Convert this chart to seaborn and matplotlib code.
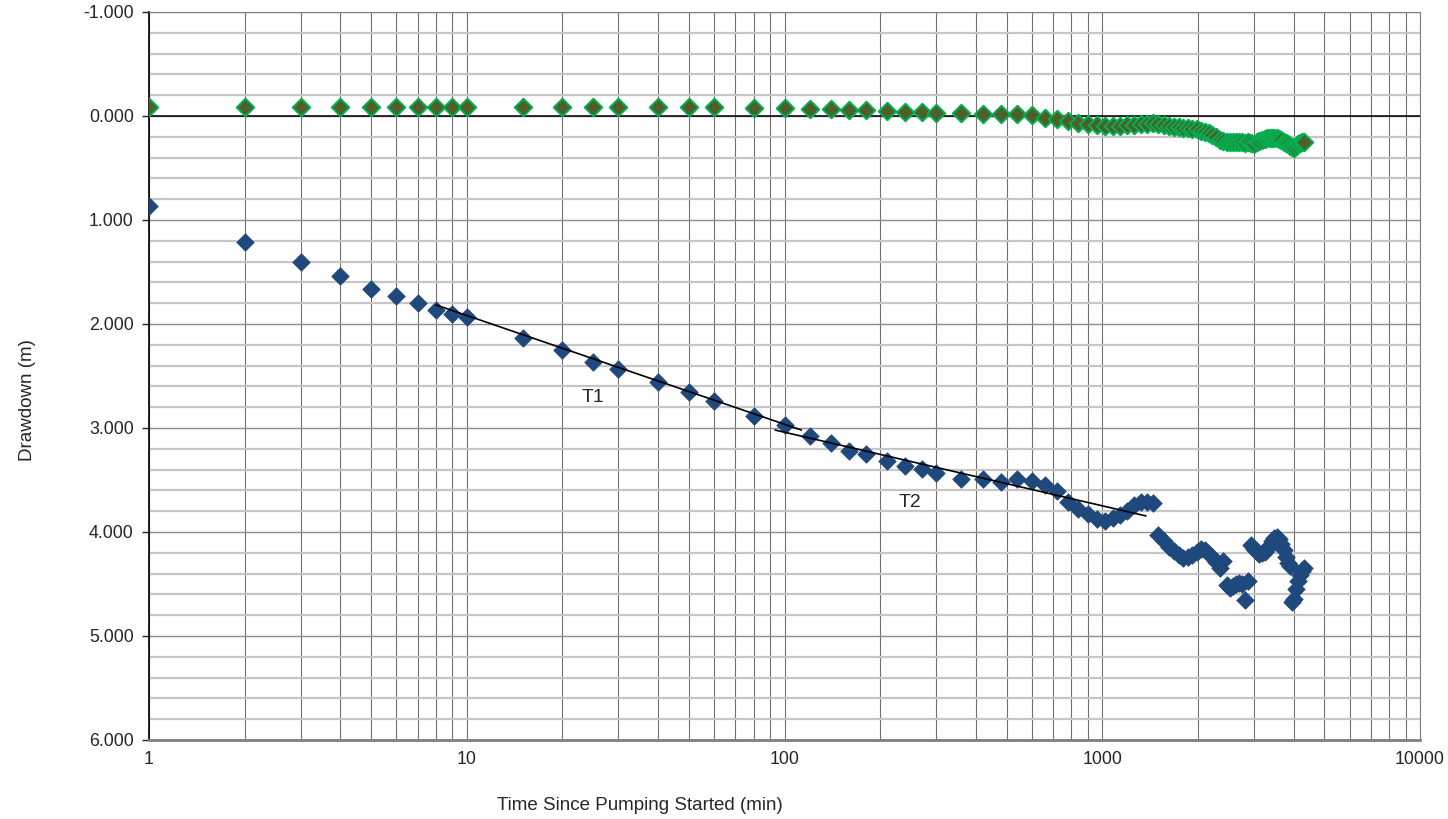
import numpy as np
import pandas as pd
import matplotlib
matplotlib.use("Agg")
import matplotlib.pyplot as plt
import seaborn as sns
from matplotlib.ticker import FixedLocator, FixedFormatter, FormatStrFormatter, MultipleLocator

# Data
time_early = [1, 2, 3, 4, 5, 6, 7, 8, 9, 10, 15, 20, 25, 30, 40, 50, 60, 80, 100,
              120, 140, 160, 180, 210, 240, 270, 300, 360, 420, 480, 540, 600]
time_late = list(range(660, 4321, 60))
time_min = time_early + time_late

drawdown_pumping = [
    0.865, 1.214, 1.401, 1.541, 1.660, 1.734, 1.795, 1.865, 1.907, 1.936,
    2.138, 2.250, 2.362, 2.436, 2.555, 2.657, 2.737, 2.882, 2.974,
    3.077, 3.147, 3.218, 3.250, 3.314, 3.362, 3.397, 3.436, 3.490, 3.494,
    3.516, 3.494, 3.510,
    # 660 .. 1440
    3.548, 3.606, 3.709, 3.78, 3.83, 3.88, 3.89, 3.87, 3.84, 3.80, 3.74,
    3.71, 3.71, 3.72,
    # 1500 .. 2400
    4.03, 4.09, 4.14, 4.18, 4.22, 4.25, 4.24, 4.22, 4.19, 4.16, 4.17,
    4.21, 4.24, 4.29, 4.35, 4.28,
    # 2460 .. 2880
    4.51, 4.54, 4.52, 4.50, 4.49, 4.50, 4.65, 4.47,
    # 2940 .. 3900
    4.13, 4.16, 4.19, 4.21, 4.20, 4.19, 4.16, 4.13, 4.09, 4.06, 4.05,
    4.07, 4.12, 4.17, 4.24, 4.30, 4.33,
    # 3960 .. 4320
    4.67, 4.64, 4.55, 4.47, 4.41, 4.38, 4.35,
]

drawdown_observation = [
    -0.085, -0.085, -0.085, -0.085, -0.085, -0.085, -0.085, -0.085, -0.085, -0.085,
    -0.085, -0.085, -0.085, -0.085, -0.085, -0.085, -0.085, -0.08, -0.075,
    -0.07, -0.065, -0.06, -0.055, -0.05, -0.04, -0.035, -0.03, -0.025, -0.02,
    -0.02, -0.015, -0.005,
    # 660 .. 1440
    0.015, 0.03, 0.05, 0.07, 0.08, 0.09, 0.10, 0.10, 0.10, 0.09, 0.09,
    0.08, 0.08, 0.07,
    # 1500 .. 2400
    0.08, 0.09, 0.10, 0.11, 0.11, 0.12, 0.12, 0.13, 0.13, 0.14, 0.15,
    0.16, 0.18, 0.20, 0.23, 0.24,
    # 2460 .. 2880
    0.25, 0.25, 0.25, 0.25, 0.25, 0.25, 0.26, 0.25,
    # 2940 .. 3900
    0.26, 0.27, 0.25, 0.24, 0.23, 0.22, 0.21, 0.21, 0.21, 0.21, 0.21,
    0.22, 0.23, 0.25, 0.26, 0.27, 0.29,
    # 3960 .. 4320
    0.30, 0.31, 0.29, 0.27, 0.26, 0.25, 0.25,
]

# straight-line fits drawn on the semi-log plot (start/end points)
t1_time = [8, 113]
t1_draw = [1.817, 3.02]
t2_time = [93.4, 1373]
t2_draw = [3.02, 3.846]

df = pd.DataFrame({"time": time_min,
                   "pumping": drawdown_pumping,
                   "observation": drawdown_observation})

sns.set_style("white")
plt.rcParams["font.family"] = ["Liberation Sans", "DejaVu Sans"]

fig = plt.figure(figsize=(14.48, 8.19), dpi=100)
ax = fig.add_axes([0.1029, 0.0965, 0.8778, 0.8889])

ax.set_xscale("log")
ax.set_xlim(1, 10000)
ax.set_ylim(6, -1)

# grid: light minor lines every 0.2 m, darker every 1 m, vertical log grid
ax.yaxis.set_major_locator(MultipleLocator(1))
ax.yaxis.set_minor_locator(MultipleLocator(0.2))
ax.yaxis.set_major_formatter(FormatStrFormatter("%.3f"))
ax.xaxis.set_major_locator(FixedLocator([1, 10, 100, 1000, 10000]))
ax.xaxis.set_major_formatter(FixedFormatter(["1", "10", "100", "1000", "10000"]))
ax.xaxis.set_minor_locator(FixedLocator(
    [m * 10 ** d for d in range(4) for m in range(2, 10)]))
ax.xaxis.set_minor_formatter(FixedFormatter([]))

ax.grid(True, which="minor", axis="y", color="#c6c6c6", lw=1.6, zorder=0)
ax.grid(True, which="major", axis="y", color="#8c8c8c", lw=1.0, zorder=0)
ax.grid(True, which="both", axis="x", color="#707070", lw=0.8, zorder=0)
ax.set_axisbelow(True)

ax.axhline(0, color="black", lw=1.1, zorder=1)

sns.scatterplot(data=df, x="time", y="observation", marker="D", s=80,
                color="#4f5f2a", edgecolor="#00b050", linewidth=1.4,
                ax=ax, zorder=3)
sns.scatterplot(data=df, x="time", y="pumping", marker="D", s=80,
                color="#1f497d", edgecolor="#1f497d", linewidth=0.5,
                ax=ax, zorder=3)

sns.lineplot(x=t1_time, y=t1_draw, color="black", lw=1.2, ax=ax, zorder=4)
sns.lineplot(x=t2_time, y=t2_draw, color="black", lw=1.2, ax=ax, zorder=4)

ax.text(25, 2.71, "T1", fontsize=14, ha="center", va="center")
ax.text(248, 3.72, "T2", fontsize=14, ha="center", va="center")

for side in ["top", "right", "bottom"]:
    ax.spines[side].set_color("#808080")
ax.spines["bottom"].set_linewidth(2)
ax.spines["left"].set_color("black")
ax.spines["left"].set_linewidth(1.2)

ax.tick_params(axis="y", which="major", direction="out", length=5, width=1,
               labelsize=12.8, pad=6, left=True)
ax.tick_params(axis="y", which="minor", length=0)
ax.tick_params(axis="x", which="both", length=0, labelsize=12.8, pad=8)

ax.set_xlabel("Time Since Pumping Started (min)", fontsize=13.5)
ax.xaxis.set_label_coords(0.386, -0.078)
ax.set_ylabel("Drawdown (m)", fontsize=13.5)
ax.yaxis.set_label_coords(-0.089, 0.467)

fig.savefig("out.png", dpi=100)
